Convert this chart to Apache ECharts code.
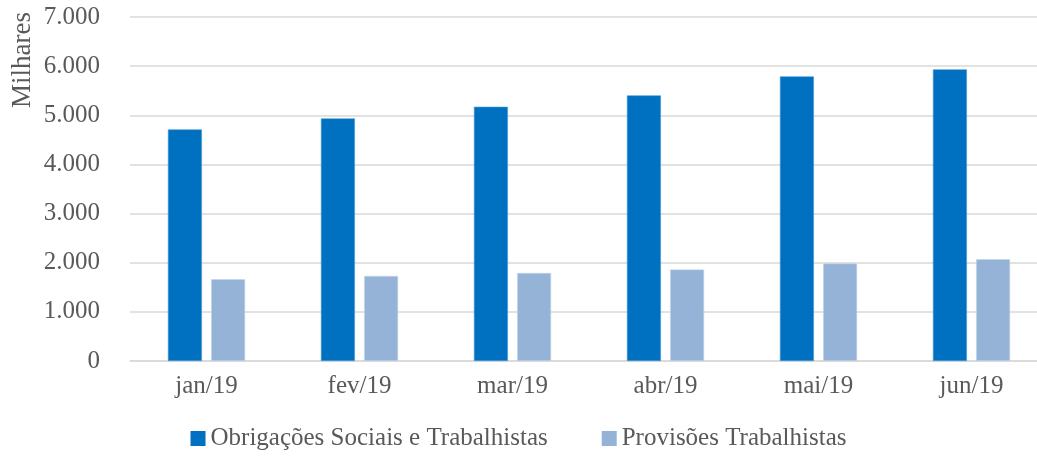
<!DOCTYPE html>
<html>
<head>
<meta charset="utf-8">
<script src="https://cdn.jsdelivr.net/npm/echarts@6/dist/echarts.min.js"></script>
<style>
  html, body { margin: 0; padding: 0; background: #fff; }
  #chart { width: 1037px; height: 461px; }
</style>
</head>
<body>
<div id="chart"></div>
<script>
// dados (milhares)
var meses = ['jan/19', 'fev/19', 'mar/19', 'abr/19', 'mai/19', 'jun/19'];
var obrigacoes = [4713, 4937, 5173, 5405, 5792, 5935];
var provisoes = [1664, 1731, 1792, 1861, 1984, 2071];
var nomeSeries = ['Obrigações Sociais e Trabalhistas', 'Provisões Trabalhistas'];

var fonte = '"Liberation Serif", "DejaVu Serif", serif';
var cinza = '#595959';
var linha = '#d9d9d9';

var myChart = echarts.init(document.getElementById('chart'));

var option = {
  animation: false,
  textStyle: { fontFamily: fonte },
  grid: {
    left: 130,
    top: 17,
    width: 918,
    height: 344,
    outerBoundsMode: 'none',
    containLabel: false
  },
  graphic: [
    {
      type: 'text',
      left: 9,
      top: 12,
      rotation: Math.PI / 2,
      style: {
        text: 'Milhares',
        fill: cinza,
        font: '27px ' + fonte
      }
    }
  ],
  legend: {
    bottom: 5,
    left: 'center',
    itemWidth: 15,
    itemHeight: 15,
    itemGap: 54,
    icon: 'rect',
    itemStyle: { borderWidth: 0 },
    textStyle: { color: cinza, fontSize: 25, fontFamily: fonte },
    data: nomeSeries
  },
  xAxis: {
    type: 'category',
    data: meses,
    axisLine: { lineStyle: { color: linha, width: 1.5 } },
    axisTick: { length: 6, lineStyle: { color: linha, width: 1.5 } },
    axisLabel: { color: cinza, fontSize: 25, margin: 13, fontFamily: fonte }
  },
  yAxis: {
    type: 'value',
    min: 0,
    max: 7000,
    interval: 1000,
    axisLine: { show: false },
    axisTick: { show: false },
    splitLine: { lineStyle: { color: linha, width: 1.5 } },
    axisLabel: {
      color: cinza,
      fontSize: 25,
      margin: 30,
      fontFamily: fonte,
      formatter: function (v) {
        return v === 0 ? '0' : v.toLocaleString('pt-BR');
      }
    }
  },
  series: [
    {
      name: nomeSeries[0],
      type: 'bar',
      data: obrigacoes,
      barWidth: 34,
      barGap: '27%',
      itemStyle: { color: '#0070c0', borderColor: '#4a9ad6', borderWidth: 0.6 }
    },
    {
      name: nomeSeries[1],
      type: 'bar',
      data: provisoes,
      barWidth: 34,
      itemStyle: { color: '#95b3d7', borderColor: '#c5d6ea', borderWidth: 0.6 }
    }
  ]
};

myChart.setOption(option);
</script>
</body>
</html>
